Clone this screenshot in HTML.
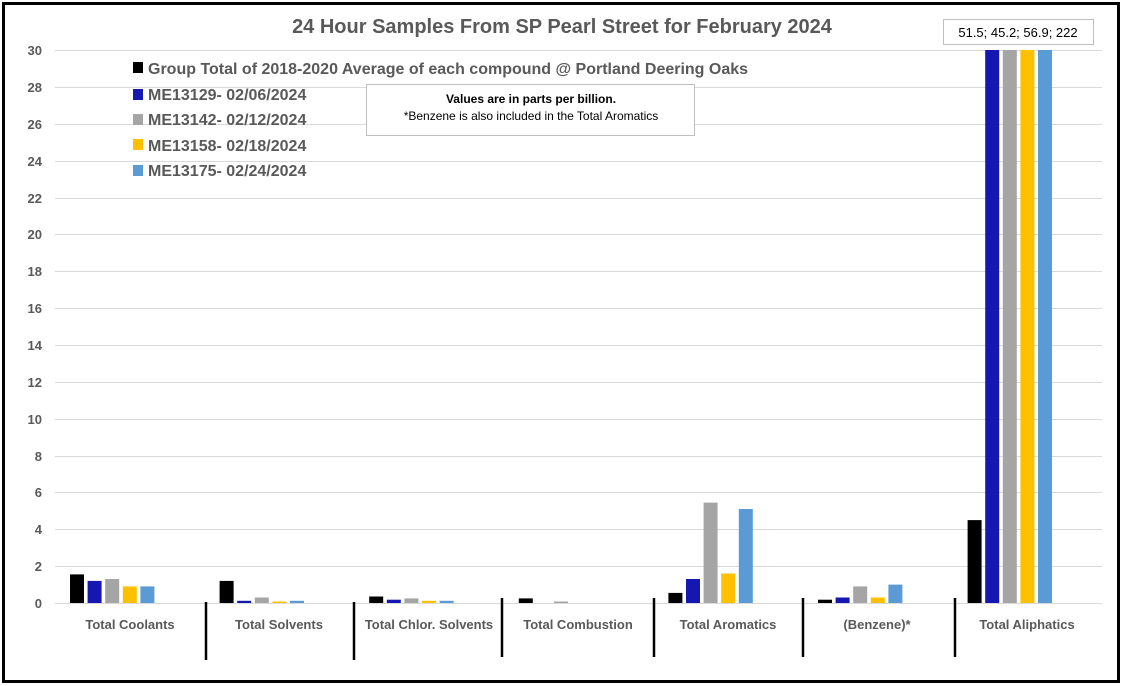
<!DOCTYPE html>
<html><head><style>
body{margin:0;background:#fff;}
svg{display:block;font-family:"Liberation Sans",sans-serif;}
</style></head><body>
<svg width="1124" height="686" xmlns="http://www.w3.org/2000/svg">
<rect x="0" y="0" width="1124" height="686" fill="#fff"/>
<rect x="3.5" y="3.5" width="1115" height="678" fill="none" stroke="#000" stroke-width="3"/>
<text x="562" y="33" text-anchor="middle" font-size="20" font-weight="bold" fill="#595959">24 Hour Samples From SP Pearl Street for February 2024</text>
<g stroke="#d9d9d9" stroke-width="1">
<line x1="55" x2="1102" y1="50.5" y2="50.5"/><line x1="55" x2="1102" y1="87.5" y2="87.5"/><line x1="55" x2="1102" y1="124.5" y2="124.5"/><line x1="55" x2="1102" y1="161.5" y2="161.5"/><line x1="55" x2="1102" y1="198.5" y2="198.5"/><line x1="55" x2="1102" y1="234.5" y2="234.5"/><line x1="55" x2="1102" y1="271.5" y2="271.5"/><line x1="55" x2="1102" y1="308.5" y2="308.5"/><line x1="55" x2="1102" y1="345.5" y2="345.5"/><line x1="55" x2="1102" y1="382.5" y2="382.5"/><line x1="55" x2="1102" y1="419.5" y2="419.5"/><line x1="55" x2="1102" y1="456.5" y2="456.5"/><line x1="55" x2="1102" y1="492.5" y2="492.5"/><line x1="55" x2="1102" y1="529.5" y2="529.5"/><line x1="55" x2="1102" y1="566.5" y2="566.5"/><line x1="55" x2="1102" y1="603.5" y2="603.5"/>
</g>
<g font-size="13" font-weight="bold" fill="#595959" text-anchor="end">
<text x="42" y="55">30</text><text x="42" y="92">28</text><text x="42" y="129">26</text><text x="42" y="166">24</text><text x="42" y="203">22</text><text x="42" y="239">20</text><text x="42" y="276">18</text><text x="42" y="313">16</text><text x="42" y="350">14</text><text x="42" y="387">12</text><text x="42" y="424">10</text><text x="42" y="461">8</text><text x="42" y="497">6</text><text x="42" y="534">4</text><text x="42" y="571">2</text><text x="42" y="608">0</text>
</g>
<g>
<rect x="70" y="574.4" width="14" height="28.6" fill="#000"/>
<rect x="87.6" y="580.9" width="14" height="22.1" fill="#1616b0"/>
<rect x="105.2" y="579" width="14" height="24" fill="#a5a5a5"/>
<rect x="122.8" y="586.4" width="14" height="16.6" fill="#ffc000"/>
<rect x="140.4" y="586.4" width="14" height="16.6" fill="#5b9bd5"/>

<rect x="219.6" y="580.9" width="14" height="22.1" fill="#000"/>
<rect x="237.2" y="600.8" width="14" height="2.2" fill="#1616b0"/>
<rect x="254.8" y="597.5" width="14" height="5.5" fill="#a5a5a5"/>
<rect x="272.4" y="601.5" width="14" height="1.5" fill="#ffc000"/>
<rect x="290" y="600.8" width="14" height="2.2" fill="#5b9bd5"/>

<rect x="369.2" y="596.5" width="14" height="6.5" fill="#000"/>
<rect x="386.8" y="599.7" width="14" height="3.3" fill="#1616b0"/>
<rect x="404.4" y="598.4" width="14" height="4.6" fill="#a5a5a5"/>
<rect x="422" y="600.8" width="14" height="2.2" fill="#ffc000"/>
<rect x="439.6" y="600.8" width="14" height="2.2" fill="#5b9bd5"/>

<rect x="518.8" y="598.4" width="14" height="4.6" fill="#000"/>
<rect x="554" y="601.5" width="14" height="1.5" fill="#a5a5a5"/>

<rect x="668.4" y="592.9" width="14" height="10.1" fill="#000"/>
<rect x="686" y="579" width="14" height="24" fill="#1616b0"/>
<rect x="703.6" y="502.6" width="14" height="100.4" fill="#a5a5a5"/>
<rect x="721.2" y="573.5" width="14" height="29.5" fill="#ffc000"/>
<rect x="738.8" y="509" width="14" height="94" fill="#5b9bd5"/>

<rect x="818" y="599.7" width="14" height="3.3" fill="#000"/>
<rect x="835.6" y="597.5" width="14" height="5.5" fill="#1616b0"/>
<rect x="853.2" y="586.4" width="14" height="16.6" fill="#a5a5a5"/>
<rect x="870.8" y="597.5" width="14" height="5.5" fill="#ffc000"/>
<rect x="888.4" y="584.6" width="14" height="18.4" fill="#5b9bd5"/>

<rect x="967.6" y="520.1" width="14" height="82.9" fill="#000"/>
<rect x="985.2" y="50" width="14" height="553" fill="#1616b0"/>
<rect x="1002.8" y="50" width="14" height="553" fill="#a5a5a5"/>
<rect x="1020.4" y="50" width="14" height="553" fill="#ffc000"/>
<rect x="1038" y="50" width="14" height="553" fill="#5b9bd5"/>
</g>
<g stroke="#000" stroke-width="2.5">
<line x1="206" x2="206" y1="602" y2="660"/><line x1="354" x2="354" y1="602" y2="660"/><line x1="502" x2="502" y1="598" y2="657"/><line x1="654" x2="654" y1="598" y2="657"/><line x1="803" x2="803" y1="598" y2="657"/><line x1="955" x2="955" y1="598" y2="657"/>
</g>
<g font-size="13" font-weight="bold" fill="#595959" text-anchor="middle">
<text x="130" y="629">Total Coolants</text><text x="279" y="629">Total Solvents</text><text x="429" y="629">Total Chlor. Solvents</text><text x="578" y="629">Total Combustion</text><text x="728" y="629">Total Aromatics</text><text x="877" y="629">(Benzene)*</text><text x="1027" y="629">Total Aliphatics</text>
</g>
<g font-size="16" font-weight="bold" fill="#595959">
<rect x="133" y="62" width="10" height="11" fill="#000"/><text x="148" y="74">Group Total of 2018-2020 Average of each compound @ Portland Deering Oaks</text>
<rect x="133" y="89" width="10" height="11" fill="#1616b0"/><text x="148" y="100">ME13129- 02/06/2024</text>
<rect x="133" y="114" width="10" height="11" fill="#a5a5a5"/><text x="148" y="125">ME13142- 02/12/2024</text>
<rect x="133" y="139" width="10" height="11" fill="#ffc000"/><text x="148" y="151">ME13158- 02/18/2024</text>
<rect x="133" y="165" width="10" height="11" fill="#5b9bd5"/><text x="148" y="176">ME13175- 02/24/2024</text>
</g>
<rect x="366.5" y="84.5" width="328" height="51" fill="#fff" stroke="#bfbfbf"/>
<text x="531" y="103" text-anchor="middle" font-size="12" font-weight="bold" fill="#000">Values are in parts per billion.</text>
<text x="531" y="120" text-anchor="middle" font-size="12" fill="#000">*Benzene is also included in the Total Aromatics</text>
<rect x="943.5" y="19.5" width="150" height="25" fill="#fff" stroke="#bfbfbf"/>
<text x="1018" y="37" text-anchor="middle" font-size="13" fill="#000">51.5; 45.2; 56.9; 222</text>
</svg>
</body></html>
